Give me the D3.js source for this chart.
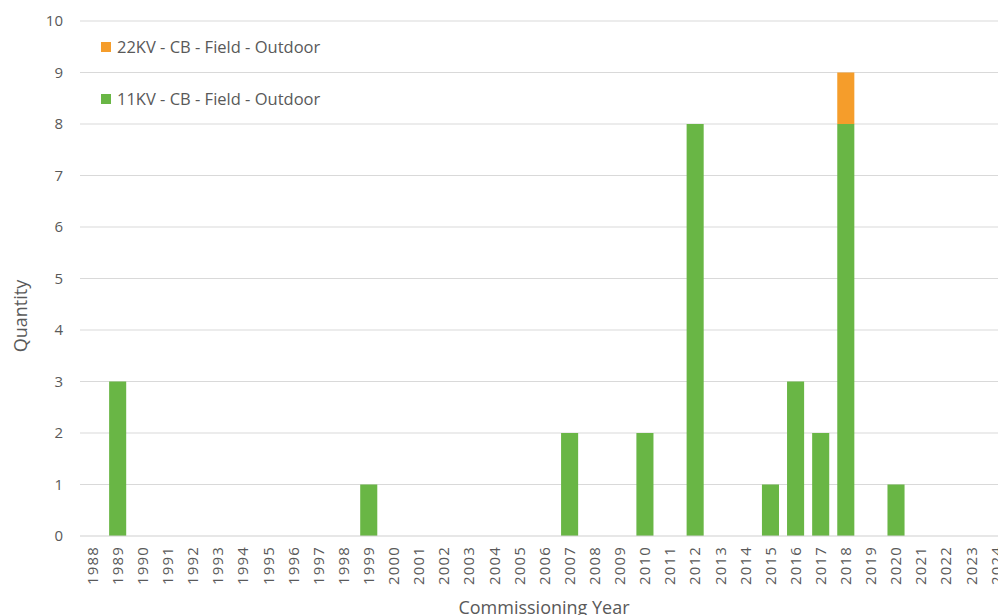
<!DOCTYPE html>
<html>
<head>
<meta charset="utf-8">
<script src="https://cdn.jsdelivr.net/npm/d3@7"></script>
<style>
  html, body { margin: 0; padding: 0; background: #fff; overflow: hidden; }
  svg { display: block; font-family: "Open Sans", "Noto Sans", sans-serif; }
</style>
</head>
<body>
<svg id="chart" width="998" height="615"></svg>
<script>
// Commissioning years shown on the category axis
const years = d3.range(1988, 2025).map(String);

// Quantities per year for each switchgear type
const kv11Years  = ["1989", "1999", "2007", "2010", "2012", "2015", "2016", "2017", "2018", "2020"];
const kv11Values = [3, 1, 2, 2, 8, 1, 3, 2, 8, 1];
const kv22Years  = ["2018"];
const kv22Values = [1];

const yTicks = [0, 1, 2, 3, 4, 5, 6, 7, 8, 9, 10];

const seriesNames  = ["11KV - CB - Field - Outdoor", "22KV - CB - Field - Outdoor"];
const seriesColors = ["#69b645", "#f59d2b"];

// Build a per-year table for stacking
const table = years.map(y => {
  const i11 = kv11Years.indexOf(y);
  const i22 = kv22Years.indexOf(y);
  return { year: y, kv11: i11 >= 0 ? kv11Values[i11] : 0, kv22: i22 >= 0 ? kv22Values[i22] : 0 };
});
const stacked = d3.stack().keys(["kv11", "kv22"])(table);

const svg = d3.select("#chart");
const plotLeft = 80, plotWidth = 929, plotTop = 21, plotBottom = 536;

const x = d3.scaleBand().domain(years).range([plotLeft, plotLeft + plotWidth]).paddingInner(0.32).paddingOuter(0.16);
const y = d3.scaleLinear().domain([0, 10]).range([plotBottom, plotTop]);

// Horizontal gridlines
svg.append("g").selectAll("line").data(yTicks.filter(d => d > 0)).join("line")
  .attr("x1", plotLeft).attr("x2", plotLeft + plotWidth)
  .attr("y1", d => y(d)).attr("y2", d => y(d))
  .attr("stroke", "#d9d9d9").attr("stroke-width", 1);

// Y axis labels
const yAxis = d3.axisLeft(y).tickValues(yTicks).tickSize(0).tickPadding(17);
svg.append("g").attr("transform", `translate(${plotLeft},0)`).call(yAxis)
  .call(g => g.select(".domain").remove())
  .call(g => g.selectAll("text").attr("fill", "#595959").style("font-size", "15px")
    .style("font-family", "'Open Sans', sans-serif"));

// Stacked bars
svg.append("g").selectAll("g").data(stacked).join("g")
  .attr("fill", (d, i) => seriesColors[i])
  .selectAll("rect").data(d => d.filter(p => p[1] - p[0] > 0)).join("rect")
  .attr("x", d => x(d.data.year))
  .attr("width", x.bandwidth())
  .attr("y", d => y(d[1]))
  .attr("height", d => y(d[0]) - y(d[1]));

// Baseline
svg.append("line")
  .attr("x1", plotLeft).attr("x2", plotLeft + plotWidth)
  .attr("y1", y(0)).attr("y2", y(0))
  .attr("stroke", "#d0d0d0").attr("stroke-width", 1.2);

// X axis labels, rotated
const xAxis = d3.axisBottom(x).tickSize(0).tickPadding(0);
svg.append("g").attr("transform", `translate(0,${plotBottom})`).call(xAxis)
  .call(g => g.select(".domain").remove())
  .call(g => g.selectAll("text")
    .attr("fill", "#595959").style("font-size", "15px")
    .style("font-family", "'Open Sans', sans-serif")
    .style("letter-spacing", "1.2px")
    .attr("text-anchor", "end")
    .attr("dy", "0.35em")
    .attr("transform", "translate(0,10) rotate(-90)")
    .attr("x", 0).attr("y", 0));

// Axis titles
svg.append("text")
  .attr("x", 544).attr("y", 614)
  .attr("text-anchor", "middle").attr("fill", "#595959")
  .style("font-size", "18px").text("Commissioning Year");

svg.append("text")
  .attr("transform", "translate(27,316) rotate(-90)")
  .attr("text-anchor", "middle").attr("fill", "#595959")
  .style("font-size", "18px").text("Quantity");

// Legend (22KV listed above 11KV)
const legendItems = [
  { name: seriesNames[1], color: seriesColors[1], y: 47 },
  { name: seriesNames[0], color: seriesColors[0], y: 99 }
];
const lg = svg.append("g").selectAll("g").data(legendItems).join("g")
  .attr("transform", d => `translate(101,${d.y})`);
lg.append("rect").attr("x", 0).attr("y", -5).attr("width", 10).attr("height", 10)
  .attr("fill", d => d.color);
lg.append("text").attr("x", 16).attr("y", 0).attr("dy", "0.35em")
  .attr("fill", "#595959").style("font-size", "16.5px").text(d => d.name);
</script>
</body>
</html>
